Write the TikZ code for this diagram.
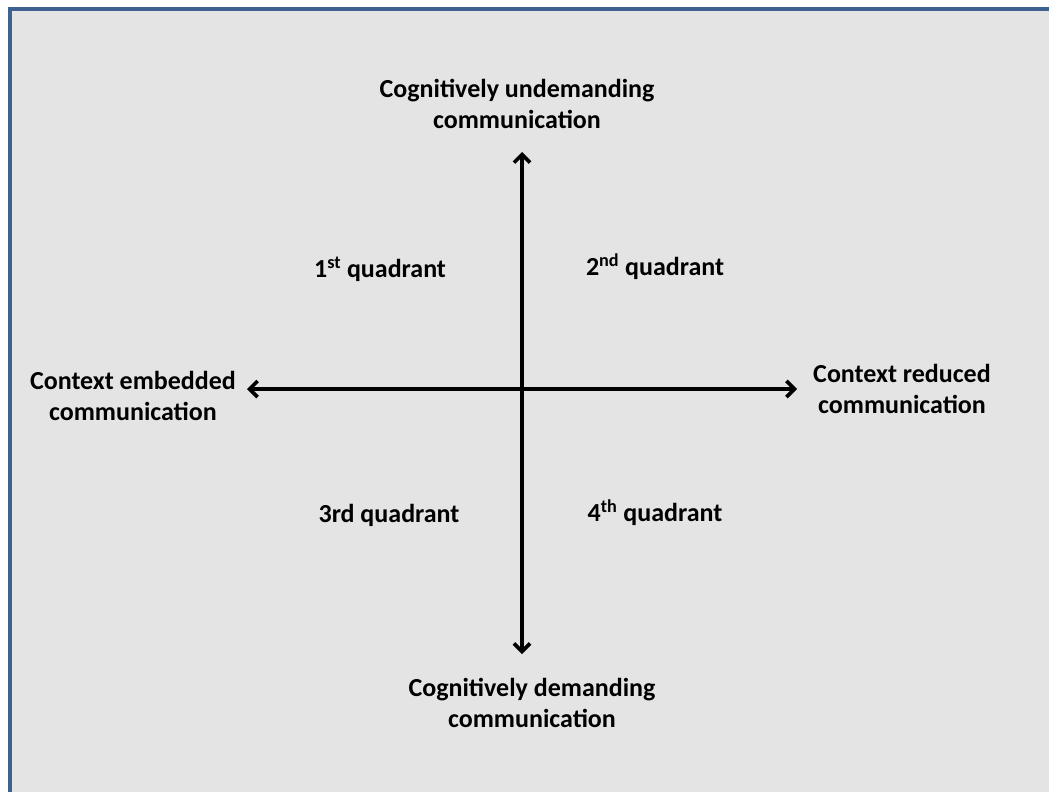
\documentclass[tikz,border=0pt]{standalone}
\usepackage{fontspec}
\setmainfont{Carlito}
\usetikzlibrary{arrows.meta}
\definecolor{framecol}{HTML}{3D6290}
\definecolor{bgcol}{HTML}{E4E4E4}
\begin{document}
\begin{tikzpicture}[x=1pt,y=-1pt,
  lbl/.style={font=\fontsize{26}{31}\selectfont\bfseries,align=center,inner sep=0pt},
  tipstyle/.style={},
  axis/.style={line width=3.2pt,{Straight Barb[length=8pt,width=16pt,line width=3.6pt]}-{Straight Barb[length=8pt,width=16pt,line width=3.6pt]}}]
\useasboundingbox (0,0) rectangle (1049,792);
\fill[white] (0,0) rectangle (1049,792);
\draw[framecol,fill=bgcol,line width=4pt] (10,9) rectangle (1070,820);
\coordinate (top) at (522,152);
\coordinate (bot) at (522,654);
\coordinate (lft) at (247,389);
\coordinate (rgt) at (797,389);
\draw[axis] (top) -- (bot);
\draw[axis] (lft) -- (rgt);
\node[lbl] (ltop) at (517,104) {Cognitively undemanding\\communication};
\node[lbl] (lbot) at (532,703) {Cognitively demanding\\communication};
\node[lbl] (lleft) at (133,396) {Context embedded\\communication};
\node[lbl] (lright) at (902,389) {Context reduced\\communication};
\node[lbl] (q1) at (380,269) {1\textsuperscript{st} quadrant};
\node[lbl] (q2) at (655,267) {2\textsuperscript{nd} quadrant};
\node[lbl] (q3) at (389,515) {3rd quadrant};
\node[lbl] (q4) at (655,513) {4\textsuperscript{th} quadrant};
\end{tikzpicture}
\end{document}
